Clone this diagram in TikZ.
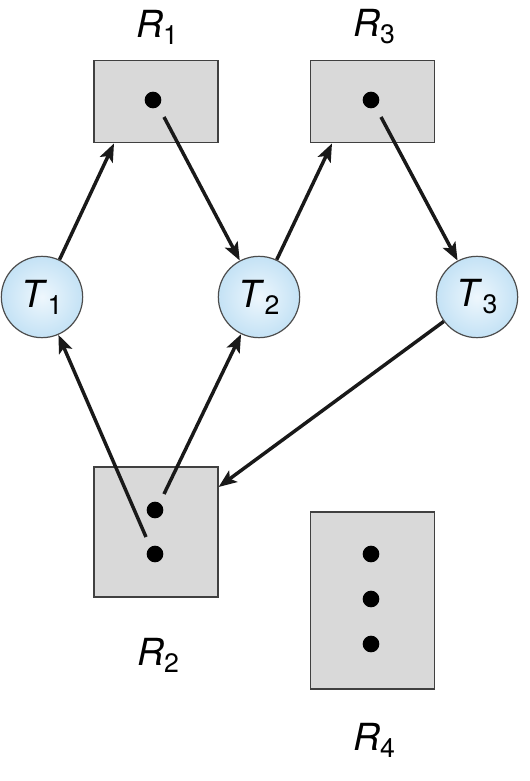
\documentclass[tikz,border=0pt]{standalone}
\usepackage{fontspec}
\setmainfont{TeX Gyre Heros}
\usetikzlibrary{arrows.meta}
\definecolor{pin}{HTML}{EEF7FD}
\definecolor{pout}{HTML}{C4E2F5}
\begin{document}
\begin{tikzpicture}[x=0.75pt,y=-0.75pt,
  res/.style={draw=black!75,line width=0.9pt,fill=black!15,inner sep=0pt,minimum width=93pt},
  proc/.style={circle,draw=black!70,line width=0.9pt,inner color=pin,outer color=pout,minimum size=61pt,inner sep=0pt,font=\fontsize{28}{30}\selectfont},
  lab/.style={font=\fontsize{28}{30}\selectfont,inner sep=0pt},
  inst/.style={circle,fill=black,minimum size=12.5pt,inner sep=0pt},
  conn/.style={draw=black!90,line width=2.6pt,-{Stealth[length=13.5pt,width=10.5pt,inset=3pt]}}]
\useasboundingbox (0,0) rectangle (529,781);
% resources
\node[res,minimum height=62pt] (R1) at (156,101.5) {};
\node[res,minimum height=62pt] (R3) at (372.5,101.5) {};
\node[res,minimum height=97.5pt] (R2) at (156,532) {};
\node[res,minimum height=132.75pt] (R4) at (372.5,600.5) {};
\node[lab] (lR1) at (157,27) {\textit{R}\raisebox{-0.35ex}{\fontsize{20}{22}\selectfont 1}};
\node[lab] (lR3) at (374,27) {\textit{R}\raisebox{-0.35ex}{\fontsize{20}{22}\selectfont 3}};
\node[lab] (lR2) at (158,655) {\textit{R}\raisebox{-0.35ex}{\fontsize{20}{22}\selectfont 2}};
\node[lab] (lR4) at (374,740) {\textit{R}\raisebox{-0.35ex}{\fontsize{20}{22}\selectfont 4}};
% instances
\node[inst] (d1) at (153,100) {};
\node[inst] (d3) at (371,100) {};
\node[inst] (d2a) at (155,510) {};
\node[inst] (d2b) at (155,554) {};
\node[inst] (d4a) at (371,554) {};
\node[inst] (d4b) at (371,599) {};
\node[inst] (d4c) at (371,644) {};
% processes
\node[proc] (T1) at (42,297) {\textit{T}\raisebox{-0.35ex}{\fontsize{20}{22}\selectfont 1}};
\node[proc] (T2) at (259,297) {\textit{T}\raisebox{-0.35ex}{\fontsize{20}{22}\selectfont 2}};
\node[proc] (T3) at (477,297) {\textit{T}\raisebox{-0.35ex}{\fontsize{20}{22}\selectfont 3}};
% edges
\coordinate (s1) at (164,117);
\coordinate (s3) at (381,117);
\coordinate (s2a) at (164,494);
\coordinate (s2b) at (146,537);
\draw[conn] (T1) -- (R1.south west -| 114,0);
\draw[conn] (s1) -- (T2);
\draw[conn] (T2) -- (R3.south west -| 332,0);
\draw[conn] (s3) -- (T3);
\draw[conn] (T3) -- (R2.east |- 0,487);
\draw[conn] (s2b) -- (T1);
\draw[conn] (s2a) -- (T2);
\end{tikzpicture}
\end{document}
